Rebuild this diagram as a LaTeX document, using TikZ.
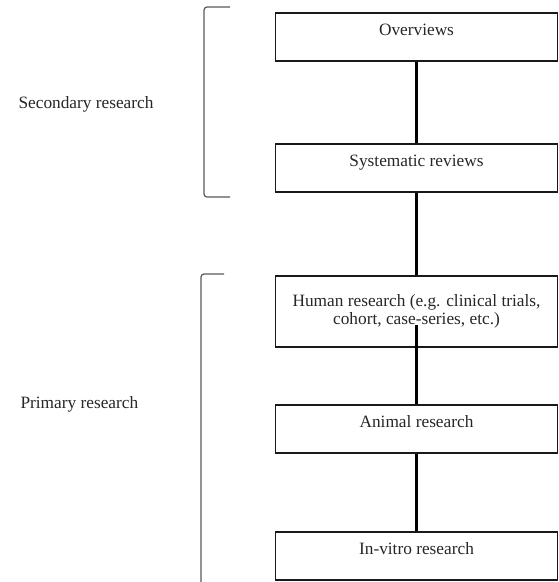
\documentclass[tikz,border=0pt]{standalone}
\usepackage{fontspec}
\setmainfont{Liberation Serif}
\begin{document}
\begin{tikzpicture}[x=1pt,y=-1pt,
  font=\fontsize{17.3}{18.5}\selectfont,
  levelbox/.style={draw=black!90,line width=1.5pt,minimum width=282pt,
    inner ysep=0pt,text height=23pt,text depth=25pt,text=black!85},
  link/.style={line width=3pt,black},
  bracket/.style={draw=black!65,line width=1.2pt,rounded corners=3pt}]
\useasboundingbox (0,0) rectangle (559,582);

% Boxes
\node[levelbox,anchor=north] (over) at (416.5,12) {Overviews};
\node[levelbox,anchor=north] (sysrev) at (416.5,143) {Systematic reviews};
\node[levelbox,anchor=north,text height=,text depth=,inner ysep=3pt,
  minimum height=71pt,align=center] (human) at (416.5,275)
  {Human research (e.g. clinical trials,\\cohort, case-series, etc.)};
\node[levelbox,anchor=north] (animal) at (416.5,404) {Animal research};
\node[levelbox,anchor=north] (vitro) at (416.5,531) {In-vitro research};

% Links
\draw[link] (over.south) -- (sysrev.north);
\draw[link] (sysrev.south) -- (human.north);
\draw[link] ([yshift=23pt]human.south) -- (animal.north);
\draw[link] (animal.south) -- (vitro.north);

% Brackets
\draw[bracket] (230,7) -- (204,7) -- (204,197) -- (230,197);
\draw[bracket] (224,274) -- (201,274) -- (201,590);

% Labels
\node[anchor=base west,text=black!85] (second) at (15,108) {Secondary research};
\node[anchor=base west,text=black!85] (primary) at (17,408) {Primary research};
\end{tikzpicture}
\end{document}
